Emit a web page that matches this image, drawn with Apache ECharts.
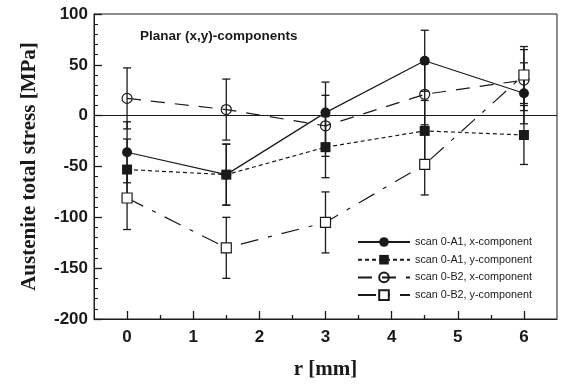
<!DOCTYPE html>
<html>
<head>
<meta charset="utf-8">
<script src="https://cdn.jsdelivr.net/npm/echarts@6/dist/echarts.min.js"></script>
<style>
html,body{margin:0;padding:0;background:#fff;}
#chart{width:563px;height:385px;}
</style>
</head>
<body>
<div id="chart"></div>
<script>
// ---- data ----
const rValues = [0, 1.5, 3, 4.5, 6];
const a1x = [-36, -58, 3, 54, 22];
const a1xErr = [30, 30, 30, 30, 30];
const a1y = [-53, -58, -31, -15, -19];
const a1yErr = [30, 30, 30, 30, 29];
const b2x = [17, 6, -10, 21, 35];
const b2xErr = [30, 30, 30, 30, 30];
const b2y = [-81, -130, -105, -48, 40];
const b2yErr = [31, 30, 30, 30, 28];
const xTickLabels = [0, 1, 2, 3, 4, 5, 6];
const xMinorTicks = [0.5, 1.5, 2.5, 3.5, 4.5, 5.5];
const seriesNames = [
  'scan 0-A1, x-component',
  'scan 0-A1, y-component',
  'scan 0-B2, x-component',
  'scan 0-B2, y-component'
];
const titleText = 'Planar (x,y)-components';
const yAxisName = 'Austenite total stress [MPa]';
const xAxisName = 'r [mm]';

const INK = '#1a1a1a';
const SANS = '"Liberation Sans", Arial, Helvetica, sans-serif';
const SERIF = '"Liberation Serif", "Times New Roman", serif';

function pts(vals){ return vals.map((v,i)=>[rValues[i], v]); }
function errs(vals, e){ return vals.map((v,i)=>[rValues[i], v - e[i], v + e[i]]); }

function errRender(params, api){
  const x = api.value(0), lo = api.value(1), hi = api.value(2);
  const p1 = api.coord([x, lo]), p2 = api.coord([x, hi]);
  const w = 4;
  const st = {stroke: INK, lineWidth: 1.3};
  return {type:'group', children:[
    {type:'line', shape:{x1:p1[0], y1:p1[1], x2:p2[0], y2:p2[1]}, style:st},
    {type:'line', shape:{x1:p1[0]-w, y1:p1[1], x2:p1[0]+w, y2:p1[1]}, style:st},
    {type:'line', shape:{x1:p2[0]-w, y1:p2[1], x2:p2[0]+w, y2:p2[1]}, style:st}
  ]};
}
function errSeries(vals, e){
  return {
    type:'custom', renderItem: errRender, data: errs(vals, e),
    encode:{x:0, y:[1,2]}, z:1, silent:true, clip:false
  };
}

const chart = echarts.init(document.getElementById('chart'), null, {renderer:'canvas'});
chart.setOption({
  animation:false,
  backgroundColor:'#fff',
  title:{
    text:titleText, left:140, top:29, padding:0,
    textStyle:{fontFamily:SANS, fontSize:13.5, fontWeight:'bold', color:INK}
  },
  legend:{
    orient:'vertical', left:357, top:236, padding:0,
    itemWidth:52, itemHeight:12, itemGap:5.7,
    textStyle:{fontFamily:SANS, fontSize:10.8, color:INK, lineHeight:12},
    data: seriesNames
  },
  grid:{left:94, right:6, top:14, bottom:63, show:true, borderColor:INK, borderWidth:1, backgroundColor:'transparent'},
  xAxis:[{
    type:'value', min:-0.5, max:6.5,
    axisLine:{show:true, onZero:false, lineStyle:{color:INK, width:1}},
    axisTick:{show:true, inside:true, length:8, customValues:xTickLabels, lineStyle:{color:INK, width:1.3}},
    axisLabel:{customValues:xTickLabels, fontFamily:SANS, fontSize:17, fontWeight:'bold', color:INK, margin:10},
    splitLine:{show:false},
    name:xAxisName, nameLocation:'middle', nameGap:40,
    nameTextStyle:{fontFamily:SERIF, fontSize:21, fontWeight:'bold', color:INK}
  },{
    type:'value', min:-0.5, max:6.5, position:'bottom',
    axisLine:{show:false, onZero:false},
    axisTick:{show:true, inside:true, length:4, customValues:xMinorTicks, lineStyle:{color:INK, width:1.3}},
    axisLabel:{show:false}, splitLine:{show:false}
  }],
  yAxis:{
    type:'value', min:-200, max:100, interval:50,
    axisLine:{show:true, onZero:false, lineStyle:{color:INK, width:1}},
    axisTick:{show:true, inside:true, length:8, lineStyle:{color:INK, width:1.3}},
    minorTick:{show:true, splitNumber:5, length:4, lineStyle:{color:INK, width:1}},
    axisLabel:{fontFamily:SANS, fontSize:17, fontWeight:'bold', color:INK, margin:6},
    splitLine:{show:false},
    name:yAxisName, nameLocation:'middle', nameGap:54,
    nameTextStyle:{fontFamily:SERIF, fontSize:21, fontWeight:'bold', color:INK}
  },
  series:[
    errSeries(a1x, a1xErr), errSeries(a1y, a1yErr), errSeries(b2x, b2xErr), errSeries(b2y, b2yErr),
    {
      name:seriesNames[0], type:'line', data:pts(a1x), z:3,
      symbol:'circle', symbolSize:10,
      itemStyle:{color:INK},
      lineStyle:{color:INK, width:1.2, type:'solid'},
      markLine:{silent:true, symbol:'none', label:{show:false},
        lineStyle:{color:INK, width:1, type:'solid'}, data:[{yAxis:0}]}
    },
    {
      name:seriesNames[1], type:'line', data:pts(a1y), z:3,
      symbol:'rect', symbolSize:10,
      itemStyle:{color:INK},
      lineStyle:{color:INK, width:1.2, type:[4,3]}
    },
    {
      name:seriesNames[2], type:'line', data:pts(b2x), z:3,
      symbol:'circle', symbolSize:10,
      itemStyle:{color:'rgba(255,255,255,0)', borderColor:INK, borderWidth:1.2},
      lineStyle:{color:INK, width:1.2, type:[14,10]}
    },
    {
      name:seriesNames[3], type:'line', data:pts(b2y), z:3,
      symbol:'rect', symbolSize:10,
      itemStyle:{color:'#fff', borderColor:INK, borderWidth:1.2},
      lineStyle:{color:INK, width:1.2, type:[18,10,4,10]}
    }
  ]
});
</script>
</body>
</html>
